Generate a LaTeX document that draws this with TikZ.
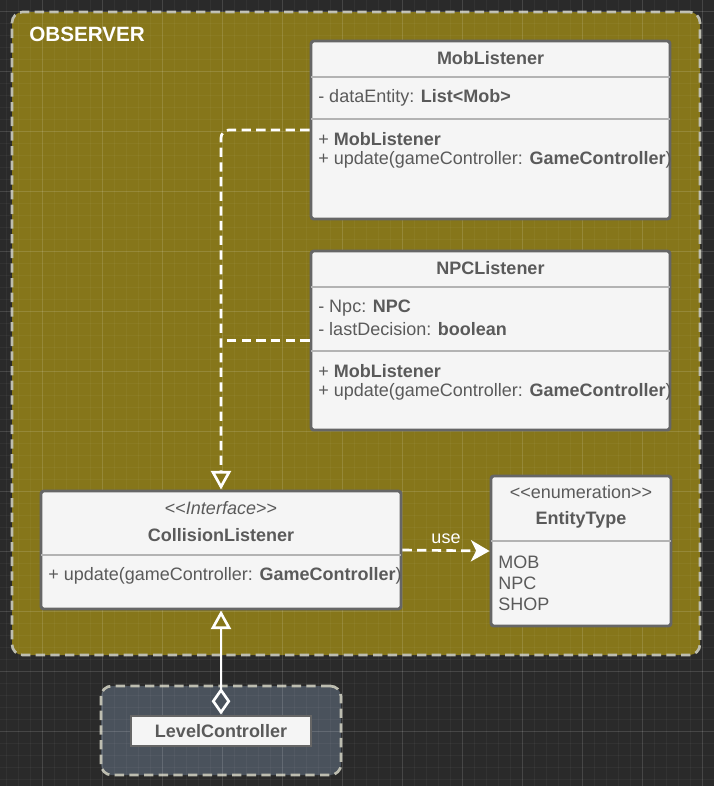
\documentclass[tikz,border=0pt]{standalone}
\usepackage{fontspec}
\setmainfont{Liberation Sans}
\usetikzlibrary{arrows.meta,fit,positioning}

\definecolor{canvas}{HTML}{2A2A2A}
\definecolor{obsfill}{HTML}{86761A}
\definecolor{lvlfill}{HTML}{4A525C}
\definecolor{grpline}{HTML}{BDBDB0}
\definecolor{clsfill}{HTML}{F5F5F5}
\definecolor{clsline}{HTML}{666666}
\definecolor{sepline}{HTML}{B3B3B3}
\definecolor{txtgray}{HTML}{5A5A5A}

\begin{document}
\begin{tikzpicture}[x=0.75pt, y=-0.75pt,
    group/.style = {draw=grpline, line width=2pt, dash pattern=on 7pt off 4pt, rounded corners=8pt, inner sep=0},
    cls/.style = {draw=clsline, fill=clsfill, line width=2.2pt, rounded corners=2pt, inner sep=0},
    sep/.style = {draw=sepline, line width=1.2pt},
    title/.style = {font=\fontsize{13.5}{16}\selectfont\bfseries, text=txtgray, inner sep=0},
    member/.style = {font=\fontsize{13.5}{16}\selectfont, text=txtgray, inner sep=0, anchor=west},
    stereo/.style = {font=\fontsize{13.5}{16}\selectfont, text=txtgray, inner sep=0},
    gridminor/.style = {draw=white, opacity=0.04, line width=0.5pt},
    gridmajor/.style = {draw=white, opacity=0.10, line width=0.6pt},
    dashline/.style = {draw=white, line width=2pt, dash pattern=on 7pt off 4pt},
    realize/.style = {dashline, rounded corners=6pt, -{Triangle[open, length=14pt, width=15pt, fill=obsfill]}},
    usearrow/.style = {dashline, -{Stealth[length=14pt, width=16pt, inset=4pt]}},
    aggregate/.style = {draw=white, line width=2pt,
      {Diamond[open, length=20pt, width=14pt, fill=lvlfill]}-{Triangle[open, length=14pt, width=15pt, fill=obsfill]}}
  ]
  \useasboundingbox (0,0) rectangle (714,786);
  \fill[canvas] (0,0) rectangle (714,786);

  % groups
  \node[group, fill=obsfill, fit={(12,12) (700,655)}] (observer) {};
  \node[group, fill=lvlfill, fit={(101,686) (341,775)}] (lvlgroup) {};

  % canvas grid
  \foreach \x in {6,18,...,714} \draw[gridminor] (\x,0) -- (\x,786);
  \foreach \y in {-1,11,...,786} \draw[gridminor] (0,\y) -- (714,\y);
  \foreach \x in {42,102,...,714} \draw[gridmajor] (\x,0) -- (\x,786);
  \foreach \y in {11,71,...,786} \draw[gridmajor] (0,\y) -- (714,\y);

  \node[anchor=west, inner sep=0, text=white, font=\fontsize{15.5}{18}\selectfont\bfseries] (obstitle) at (29,34) {OBSERVER};

  % MobListener
  \node[cls, fit={(311,41) (670,219)}] (mob) {};
  \draw[sep] (311,77) -- (670,77);
  \draw[sep] (311,119) -- (670,119);
  \node[title] (mobname) at (490.5,58) {MobListener};
  \node[member] (mobattr) at (318,98) {- dataEntity: \textbf{List<Mob>}};
  \node[member] (mobctor) at (318,139) {+ \textbf{MobListener}};
  \node[member] (mobupd) at (318,160) {+ update(gameController: \textbf{GameController})};

  % NPCListener
  \node[cls, fit={(311,251) (670,430)}] (npc) {};
  \draw[sep] (311,287) -- (670,287);
  \draw[sep] (311,351) -- (670,351);
  \node[title] (npcname) at (490.5,268) {NPCListener};
  \node[member] (npcattr) at (318,308) {- Npc: \textbf{NPC}};
  \node[member] (npclast) at (318,329) {- lastDecision: \textbf{boolean}};
  \node[member] (npcctor) at (318,371) {+ \textbf{MobListener}};
  \node[member] (npcupd) at (318,392) {+ update(gameController: \textbf{GameController})};

  % CollisionListener
  \node[cls, fit={(41,491) (401,609)}] (coll) {};
  \draw[sep] (41,555) -- (401,555);
  \node[stereo] (collstereo) at (221,508) {<{}<\textit{Interface}>{}>};
  \node[title] (collname) at (221,535) {CollisionListener};
  \node[member] (collupd) at (48,576) {+ update(gameController: \textbf{GameController})};

  % EntityType
  \node[cls, fit={(491,476) (671,626)}] (enum) {};
  \draw[sep] (491,541) -- (671,541);
  \node[stereo] (enumstereo) at (581,492) {<{}<enumeration>{}>};
  \node[title] (enumname) at (581,520) {EntityType};
  \node[member] (enummob) at (498,562) {MOB};
  \node[member] (enumnpc) at (498,583) {NPC};
  \node[member] (enumshop) at (498,604) {SHOP};

  % LevelController
  \node[cls, rounded corners=0pt, fit={(131,716) (311,746)}] (lvl) {};
  \node[title] (lvlname) at (221,731) {LevelController};

  % connectors
  \draw[realize] (mob.west) -| (coll.north);
  \draw[dashline] (npc.west) -- (npc.west -| coll.north);
  \draw[usearrow] (coll.east) -- (enum.west)
    node[midway, above=4pt, inner sep=0, text=white, font=\fontsize{13.5}{16}\selectfont] (uselabel) {use};
  \draw[aggregate] (lvl.north) -- (coll.south);
\end{tikzpicture}
\end{document}
